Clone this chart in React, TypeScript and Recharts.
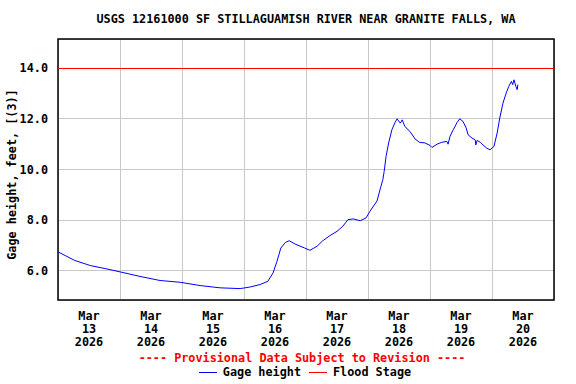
import { LineChart, Line, XAxis, YAxis, CartesianGrid, ReferenceLine, ReferenceArea } from 'recharts'

const TITLE = 'USGS 12161000 SF STILLAGUAMISH RIVER NEAR GRANITE FALLS, WA'
const Y_LABEL = 'Gage height, feet, [(3)]'
const PROVISIONAL = '---- Provisional Data Subject to Revision ----'

// hours since Mar 13 00:00
const hours = [
  0, 6.5, 12.5, 18.25, 24, 31.75, 39.5, 47.25, 55, 62.75, 70.5, 74.25, 78.25, 81.25, 83.25, 84.75,
  86.25, 88, 89.5, 91.75, 95.5, 97.5, 100.25, 102.5, 105.25, 108, 110.25, 112.25, 114.25, 117, 119.25,
  120.75, 123.5, 125, 125.75, 126.25, 127, 128, 129.25, 130.5, 131.25, 132.5, 133.25, 134.25, 136.25,
  138.25, 140, 142, 144, 144.75, 146.75, 148.5, 150.5, 151, 151.75, 153, 154.5, 155.5, 156.75, 158,
  158.75, 160.25, 161.5, 161.75, 162.25, 163.5, 164.5, 166, 167.25, 168.75, 170, 171, 172.25, 173.5,
  174.5, 175.5, 176, 176.5, 177.25, 177.75, 178,
]
const gageHeight = [
  6.75, 6.41, 6.21, 6.09, 5.96, 5.78, 5.62, 5.55, 5.42, 5.33, 5.3, 5.36, 5.46, 5.59, 5.92, 6.37,
  6.9, 7.12, 7.19, 7.06, 6.9, 6.81, 6.97, 7.19, 7.39, 7.56, 7.76, 8.02, 8.05, 7.98, 8.09,
  8.35, 8.76, 9.33, 9.6, 9.92, 10.52, 11.05, 11.57, 11.86, 12.0, 11.83, 11.96, 11.7, 11.5,
  11.2, 11.07, 11.05, 10.95, 10.87, 11.0, 11.07, 11.11, 11.0, 11.31, 11.57, 11.86, 12.0, 11.9, 11.64,
  11.37, 11.24, 11.17, 10.97, 11.15, 11.07, 10.97, 10.84, 10.78, 10.91, 11.44, 12.03, 12.62, 13.02,
  13.28, 13.48, 13.35, 13.54, 13.28, 13.15, 13.35,
]
const FLOOD_STAGE = 14
const yTicks = [6, 8, 10, 12, 14]
const Y_DOMAIN: [number, number] = [4.85, 15.15]
const dayLabels = ['13', '14', '15', '16', '17', '18', '19', '20']
const MONTH = 'Mar'
const YEAR = '2026'

const data = hours.map((h, i) => ({ h, gage: gageHeight[i] }))
const labelTicks = dayLabels.map((_, i) => i * 24 + 12)
const dayBreaks = dayLabels.slice(1).map((_, i) => (i + 1) * 24)
const X_END = dayLabels.length * 24

const FONT = "'DejaVu Sans Mono', monospace"
const FS = 11.8
const TXT = { fontFamily: FONT, fontWeight: 'bold' as const, fontSize: FS, color: '#000' }

function DayTick({ x, y, payload }: any) {
  const day = dayLabels[Math.round((payload.value - 12) / 24)]
  return (
    <text x={x} y={y} textAnchor="middle" fontFamily={FONT} fontWeight="bold" fontSize={FS} fill="#000">
      <tspan x={x} dy={18}>{MONTH}</tspan>
      <tspan x={x} dy={13}>{day}</tspan>
      <tspan x={x} dy={13}>{YEAR}</tspan>
    </text>
  )
}

export default function App() {
  return (
    <div style={{ position: 'absolute', left: 0, top: 0, width: 576, height: 384, background: '#fff' }}>
      <div style={{ ...TXT, position: 'absolute', left: 58, width: 496, top: 12, textAlign: 'center' }}>{TITLE}</div>
      <LineChart width={576} height={384} data={data} margin={{ top: 39, right: 22, left: 0, bottom: 0 }}>
        <CartesianGrid xAxisId="grid" stroke="#c8c8c8" shapeRendering="crispEdges" />
        <XAxis xAxisId="grid" dataKey="h" type="number" domain={[0, X_END]} ticks={dayBreaks} hide />
        <XAxis
          dataKey="h"
          type="number"
          domain={[0, X_END]}
          ticks={labelTicks}
          interval={0}
          height={84}
          tickLine={false}
          axisLine={false}
          tickSize={0}
          tick={<DayTick />}
        />
        <YAxis
          type="number"
          domain={Y_DOMAIN}
          ticks={yTicks}
          width={58}
          tickLine={false}
          axisLine={false}
          tickMargin={4}
          tickFormatter={(v) => v.toFixed(1)}
          tick={{ fontFamily: FONT, fontWeight: 'bold', fontSize: FS, fill: '#000' }}
          label={{ value: Y_LABEL, angle: -90, position: 'center', dx: -17, dy: 5, style: { fontFamily: FONT, fontWeight: 'bold', fontSize: FS, fill: '#000' } }}
        />
        <ReferenceLine y={FLOOD_STAGE} stroke="#ff0000" strokeWidth={1} shapeRendering="crispEdges" />
        <Line dataKey="gage" type="linear" stroke="#0000ff" strokeWidth={1} dot={false} isAnimationActive={false} />
        <ReferenceArea
          x1={0}
          x2={X_END}
          y1={Y_DOMAIN[0]}
          y2={Y_DOMAIN[1]}
          fill="none"
          stroke="#000"
          strokeWidth={1.5}
          ifOverflow="visible"
        />
      </LineChart>
      <div style={{ ...TXT, color: '#ff0000', position: 'absolute', left: 0, width: 604, top: 351, textAlign: 'center' }}>
        {PROVISIONAL}
      </div>
      <div style={{ ...TXT, position: 'absolute', left: 0, width: 610, top: 365, display: 'flex', justifyContent: 'center', alignItems: 'center' }}>
        <span style={{ display: 'inline-block', width: 18, borderTop: '1px solid #0000ff', marginRight: 6 }} />
        <span style={{ marginRight: 8 }}>Gage height</span>
        <span style={{ display: 'inline-block', width: 18, borderTop: '1px solid #ff0000', marginRight: 6 }} />
        <span>Flood Stage</span>
      </div>
    </div>
  )
}
